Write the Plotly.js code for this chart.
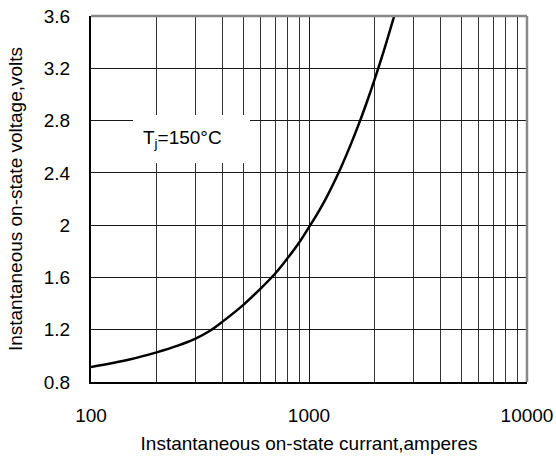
<!DOCTYPE html>
<html>
<head>
<meta charset="utf-8">
<script src="https://cdn.plot.ly/plotly-3.0.1.min.js"></script>
<style>
html,body{margin:0;padding:0;background:#fff;}
#chart{width:556px;height:456px;}
</style>
</head>
<body>
<div id="chart"></div>
<script>
// Data
const currentA = [100, 150, 200, 250, 300, 350, 400, 500, 600, 700, 800, 900, 1000, 1100, 1200, 1300, 1400, 1550, 1700, 1850, 2000, 2200, 2460];
const voltageV = [0.915, 0.972, 1.027, 1.078, 1.13, 1.19, 1.26, 1.39, 1.515, 1.63, 1.75, 1.865, 1.985, 2.096, 2.209, 2.324, 2.439, 2.612, 2.782, 2.95, 3.115, 3.329, 3.6];

const xTickVals = [100, 1000, 10000];
const xTickText = ["100", "1000", "10000"];
const xMinorVals = [200, 300, 400, 500, 600, 700, 800, 900, 2000, 3000, 4000, 5000, 6000, 7000, 8000, 9000];
const yTickVals = [0.8, 1.2, 1.6, 2.0, 2.4, 2.8, 3.2, 3.6];
const yTickText = ["0.8", "1.2", "1.6", "2", "2.4", "2.8", "3.2", "3.6"];

const labelText = "T<sub>j</sub>=150°C";
const xTitle = "Instantaneous on-state currant,amperes";
const yTitle = "Instantaneous on-state voltage,volts";

const FONT = "Arial, 'Liberation Sans', Helvetica, sans-serif";
const FS = 19;

const trace = {
  x: currentA, y: voltageV, type: 'scatter', mode: 'lines',
  line: {color: '#000', width: 2.5, shape: 'spline', smoothing: 1},
  hoverinfo: 'skip', showlegend: false
};

const layout = {
  width: 556, height: 456,
  margin: {l: 91, r: 29, t: 16, b: 74},
  paper_bgcolor: '#fff', plot_bgcolor: '#fff',
  font: {family: FONT, size: FS, color: '#000'},
  showlegend: false,
  xaxis: {
    type: 'log', range: [2, 4],
    tickvals: xTickVals, ticktext: xTickText,
    ticks: '', ticklabelstandoff: 15,
    showgrid: true, gridcolor: '#1a1a1a', gridwidth: 1,
    minor: {tickvals: xMinorVals, showgrid: true, gridcolor: '#333', gridwidth: 1, ticks: ''},
    showline: true, linecolor: '#000', linewidth: 2,
    zeroline: false, fixedrange: true,
    title: {text: xTitle, font: {family: FONT, size: FS}, standoff: 12}
  },
  yaxis: {
    range: [0.8, 3.6],
    tickvals: yTickVals, ticktext: yTickText,
    ticks: '', ticklabelstandoff: 15,
    showgrid: true, gridcolor: '#1a1a1a', gridwidth: 1,
    showline: true, linecolor: '#000', linewidth: 2,
    zeroline: false, fixedrange: true,
    title: {text: yTitle, font: {family: FONT, size: FS}, standoff: 16}
  },
  shapes: [
    {type: 'line', xref: 'paper', yref: 'paper', x0: 0, x1: 1, y0: 1, y1: 1, line: {color: '#888', width: 2.5}},
    {type: 'line', xref: 'paper', yref: 'paper', x0: 1, x1: 1, y0: 0, y1: 1, line: {color: '#888', width: 2.5}}
  ],
  annotations: [{
    xref: 'paper', yref: 'paper',
    x: 0.0963, y: 0.664, xanchor: 'left', yanchor: 'middle',
    text: labelText, showarrow: false,
    align: 'left', valign: 'middle',
    width: 97, height: 28, borderpad: 10,
    bgcolor: '#fff', borderwidth: 0,
    font: {family: FONT, size: FS, color: '#000'}
  }]
};

Plotly.newPlot('chart', [trace], layout, {staticPlot: true, displayModeBar: false});
</script>
</body>
</html>
